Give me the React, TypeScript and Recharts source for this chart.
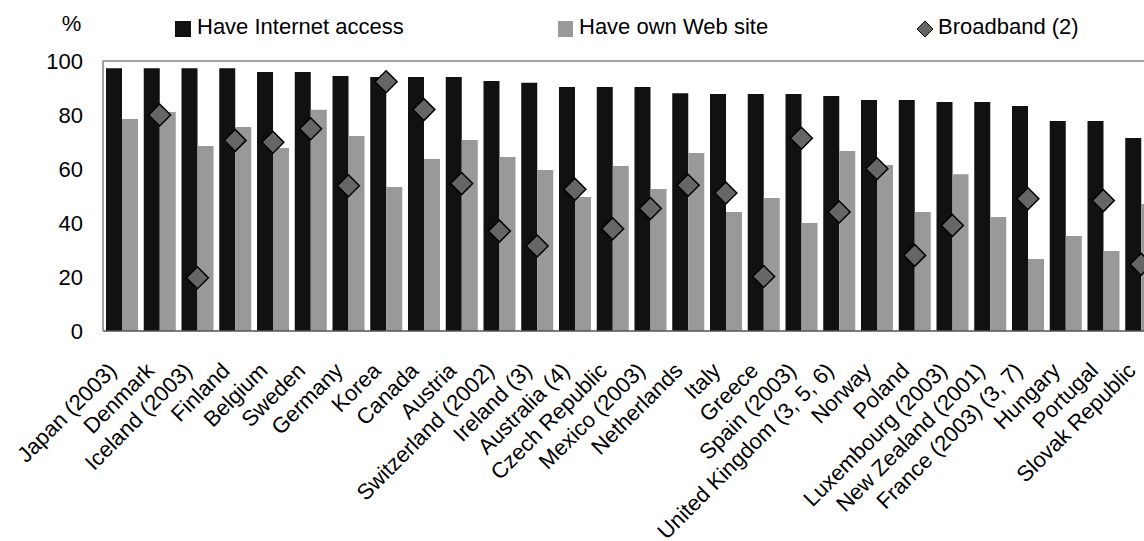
import React from "react";
import { Bar, ComposedChart, Legend, Line, ReferenceLine, XAxis, YAxis } from "recharts";

const countries = [
  "Japan (2003)", "Denmark", "Iceland (2003)", "Finland", "Belgium", "Sweden", "Germany", "Korea",
  "Canada", "Austria", "Switzerland (2002)", "Ireland (3)", "Australia (4)", "Czech Republic",
  "Mexico (2003)", "Netherlands", "Italy", "Greece", "Spain (2003)", "United Kingdom (3, 5, 6)",
  "Norway", "Poland", "Luxembourg (2003)", "New Zealand (2001)", "France (2003) (3, 7)", "Hungary",
  "Portugal", "Slovak Republic"
];

const internetAccess = [
  97.3, 97.3, 97.3, 97.3, 95.9, 95.9, 94.4, 94.1, 94.1, 94.1, 92.6, 91.9, 90.4, 90.4,
  90.4, 88.1, 87.8, 87.8, 87.8, 87.0, 85.6, 85.6, 84.8, 84.8, 83.3, 77.8, 77.8, 71.5
];

const ownWebSite = [
  78.5, 81.1, 68.5, 75.6, 67.8, 81.9, 72.2, 53.3, 63.7, 70.7, 64.4, 59.6, 49.6, 61.1,
  52.6, 65.9, 44.1, 49.3, 40.0, 66.7, 61.5, 44.1, 58.1, 42.2, 26.7, 35.2, 29.6, 47.0
];

const broadband: (number | null)[] = [
  null, 80.0, 19.7, 70.6, 69.9, 74.9, 53.8, 92.3, 82.0, 54.6, 37.0, 31.5, 52.5, 37.9,
  45.4, 54.0, 51.1, 20.2, 71.4, 44.1, 60.1, 28.0, 39.1, null, 49.0, null, 48.3, 24.7
];

const yTicks = [0, 20, 40, 60, 80, 100];

const data = countries.map((name, i) => ({
  name,
  internet: internetAccess[i],
  web: ownWebSite[i],
  broadband: broadband[i]
}));

const FONT = "'Liberation Sans', Arial, sans-serif";

const Diamond = (props: any) => {
  const { cx, cy, value, index } = props;
  if (cx == null || cy == null || value == null) return <g key={`d-${index}`} />;
  const r = 11;
  return (
    <polygon
      key={`d-${index}`}
      points={`${cx},${cy - r} ${cx + r},${cy} ${cx},${cy + r} ${cx - r},${cy}`}
      fill="#666666"
      stroke="#000"
      strokeWidth={1.5}
    />
  );
};

const CountryTick = (props: any) => {
  const { x, y, payload } = props;
  return (
    <text
      transform={`translate(${x - 4},${y + 33}) rotate(-45)`}
      textAnchor="end"
      fontSize={22}
      fontFamily={FONT}
      fill="#000"
    >
      {payload.value}
    </text>
  );
};

const TopLegend = () => (
  <div style={{ position: "relative", width: 1144, height: 50, fontFamily: FONT, fontSize: 22, color: "#000" }}>
    <div style={{ position: "absolute", left: 175, top: 21, width: 16, height: 16, background: "#111111" }} />
    <div style={{ position: "absolute", left: 197, top: 14, whiteSpace: "nowrap" }}>Have Internet access</div>
    <div style={{ position: "absolute", left: 558, top: 21, width: 15, height: 16, background: "#999999" }} />
    <div style={{ position: "absolute", left: 579, top: 14, whiteSpace: "nowrap" }}>Have own Web site</div>
    <svg style={{ position: "absolute", left: 916, top: 20 }} width={18} height={18}>
      <polygon points="9,1 17,9 9,17 1,9" fill="#666666" stroke="#000" strokeWidth={1} />
    </svg>
    <div style={{ position: "absolute", left: 938, top: 14, whiteSpace: "nowrap" }}>Broadband (2)</div>
  </div>
);

export default function App() {
  return (
    <div style={{ position: "fixed", left: 0, top: 0, width: 1144, height: 541, overflow: "hidden", background: "#fff" }}>
      <ComposedChart
        width={1160}
        height={541}
        data={data}
        margin={{ top: 61, right: 0, bottom: 0, left: 0 }}
        barGap={0}
      >
        <XAxis
          dataKey="name"
          interval={0}
          height={210}
          tickLine={false}
          axisLine={{ stroke: "#555555", strokeWidth: 1.5 }}
          tick={<CountryTick />}
        />
        <YAxis
          width={103}
          domain={[0, 100]}
          ticks={yTicks}
          tickLine={false}
          tickSize={0}
          tickMargin={20}
          axisLine={{ stroke: "#808080", strokeWidth: 1.5 }}
          tick={{ fontSize: 22, fontFamily: FONT, fill: "#000" }}
          label={{ value: "%", position: "top", dx: 20, dy: -25, fontSize: 22, fontFamily: FONT, fill: "#000" }}
        />
        <ReferenceLine y={100} stroke="#808080" strokeWidth={1.5} />
        <Legend
          verticalAlign="middle"
          align="center"
          layout="horizontal"
          wrapperStyle={{ top: 0, left: 0, width: 1144, height: 50 }}
          content={<TopLegend />}
        />
        <Bar dataKey="internet" name="Have Internet access" fill="#111111" barSize={16} isAnimationActive={false} />
        <Bar dataKey="web" name="Have own Web site" fill="#999999" barSize={16} isAnimationActive={false} />
        <Line
          dataKey="broadband"
          name="Broadband (2)"
          stroke="none"
          dot={Diamond}
          activeDot={false}
          isAnimationActive={false}
        />
      </ComposedChart>
    </div>
  );
}
